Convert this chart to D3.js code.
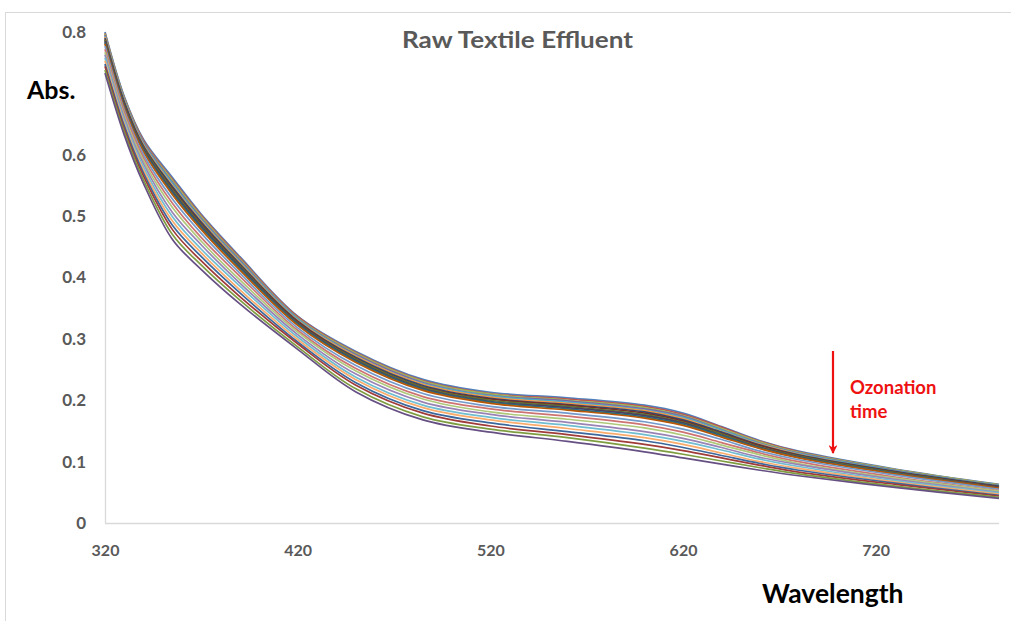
<!DOCTYPE html>
<html>
<head>
<meta charset="utf-8">
<script src="https://cdn.jsdelivr.net/npm/d3@7"></script>
<style>
  html, body { margin: 0; padding: 0; background: #fff; }
  svg { display: block; }
  text { font-family: Lato, "Open Sans", sans-serif; }
</style>
</head>
<body>
<svg id="chart" width="1011" height="621"></svg>
<script>
// Wavelengths (nm) at which each spectrum was sampled
const wavelengths = [320, 330, 340, 355, 370, 390, 420, 450, 485, 520, 560, 600, 620, 640, 660, 680, 730, 784];

// Absorbance spectra, one per ozonation sample (first = untreated)
const s1  = [0.800, 0.695, 0.625, 0.563, 0.503, 0.434, 0.337, 0.280, 0.234, 0.213, 0.204, 0.192, 0.179, 0.157, 0.134, 0.117, 0.088, 0.063];
const s2  = [0.798, 0.693, 0.623, 0.560, 0.501, 0.432, 0.336, 0.278, 0.232, 0.211, 0.202, 0.190, 0.177, 0.156, 0.133, 0.116, 0.087, 0.062];
const s3  = [0.797, 0.692, 0.621, 0.558, 0.499, 0.430, 0.334, 0.277, 0.231, 0.210, 0.200, 0.188, 0.175, 0.154, 0.132, 0.115, 0.087, 0.062];
const s4  = [0.795, 0.690, 0.620, 0.555, 0.496, 0.428, 0.333, 0.275, 0.229, 0.208, 0.199, 0.186, 0.174, 0.152, 0.130, 0.114, 0.086, 0.061];
const s5  = [0.793, 0.689, 0.618, 0.553, 0.494, 0.426, 0.332, 0.273, 0.227, 0.207, 0.197, 0.184, 0.172, 0.151, 0.129, 0.113, 0.085, 0.061];
const s6  = [0.792, 0.687, 0.616, 0.550, 0.492, 0.424, 0.330, 0.272, 0.226, 0.205, 0.195, 0.183, 0.170, 0.149, 0.128, 0.112, 0.084, 0.060];
const s7  = [0.790, 0.686, 0.614, 0.548, 0.490, 0.422, 0.329, 0.270, 0.224, 0.203, 0.193, 0.181, 0.168, 0.148, 0.127, 0.111, 0.084, 0.060];
const s8  = [0.788, 0.684, 0.612, 0.545, 0.487, 0.420, 0.328, 0.268, 0.222, 0.202, 0.192, 0.179, 0.166, 0.146, 0.126, 0.110, 0.083, 0.059];
const s9  = [0.787, 0.682, 0.611, 0.543, 0.485, 0.419, 0.326, 0.267, 0.221, 0.200, 0.190, 0.177, 0.164, 0.145, 0.124, 0.109, 0.082, 0.058];
const s10 = [0.785, 0.681, 0.609, 0.540, 0.483, 0.417, 0.325, 0.265, 0.219, 0.198, 0.188, 0.175, 0.163, 0.143, 0.123, 0.108, 0.081, 0.058];
const s11 = [0.783, 0.679, 0.607, 0.538, 0.481, 0.415, 0.324, 0.264, 0.218, 0.197, 0.186, 0.173, 0.161, 0.142, 0.122, 0.107, 0.081, 0.057];
const s12 = [0.781, 0.677, 0.605, 0.535, 0.478, 0.412, 0.322, 0.262, 0.216, 0.195, 0.184, 0.171, 0.159, 0.140, 0.121, 0.106, 0.080, 0.057];
const s13 = [0.777, 0.673, 0.600, 0.528, 0.472, 0.407, 0.318, 0.257, 0.211, 0.190, 0.179, 0.165, 0.153, 0.136, 0.117, 0.103, 0.078, 0.055];
const s14 = [0.772, 0.669, 0.595, 0.521, 0.465, 0.402, 0.314, 0.252, 0.206, 0.186, 0.174, 0.160, 0.148, 0.131, 0.114, 0.100, 0.075, 0.053];
const s15 = [0.767, 0.664, 0.590, 0.514, 0.459, 0.396, 0.311, 0.248, 0.202, 0.181, 0.169, 0.155, 0.143, 0.127, 0.111, 0.097, 0.073, 0.052];
const s16 = [0.763, 0.660, 0.585, 0.506, 0.453, 0.391, 0.307, 0.243, 0.197, 0.177, 0.164, 0.149, 0.138, 0.123, 0.107, 0.095, 0.071, 0.050];
const s17 = [0.758, 0.655, 0.580, 0.499, 0.446, 0.386, 0.303, 0.238, 0.192, 0.172, 0.159, 0.144, 0.133, 0.119, 0.104, 0.092, 0.069, 0.049];
const s18 = [0.753, 0.651, 0.575, 0.492, 0.440, 0.380, 0.299, 0.234, 0.188, 0.168, 0.154, 0.139, 0.128, 0.114, 0.100, 0.089, 0.067, 0.047];
const s19 = [0.748, 0.647, 0.570, 0.485, 0.434, 0.375, 0.295, 0.229, 0.183, 0.163, 0.149, 0.134, 0.123, 0.110, 0.097, 0.086, 0.065, 0.045];
const s20 = [0.744, 0.642, 0.565, 0.478, 0.427, 0.369, 0.292, 0.225, 0.179, 0.158, 0.144, 0.128, 0.118, 0.106, 0.094, 0.083, 0.063, 0.044];
const s21 = [0.738, 0.637, 0.559, 0.470, 0.420, 0.363, 0.287, 0.219, 0.173, 0.153, 0.139, 0.122, 0.112, 0.101, 0.090, 0.080, 0.060, 0.042];
const s22 = [0.733, 0.632, 0.553, 0.462, 0.413, 0.357, 0.283, 0.214, 0.168, 0.148, 0.133, 0.116, 0.106, 0.096, 0.086, 0.077, 0.058, 0.040];

const seriesValues = [s1, s2, s3, s4, s5, s6, s7, s8, s9, s10, s11, s12,
                      s13, s14, s15, s16, s17, s18, s19, s20, s21, s22];

// Line colours, in series order
const seriesColors = [
  "#4F81BD", "#C0504D", "#9BBB59", "#8064A2", "#4BACC6", "#F79646",
  "#2C4D75", "#772C2A", "#5F7530", "#4D3B62", "#276A7C", "#B65708",
  "#729ACA", "#CD7371", "#AFC97A", "#9983B5", "#6FBDD1", "#F9AB6B",
  "#3A679C", "#9F3B38", "#7E9D40", "#664F83"
];

const xTicks = [320, 420, 520, 620, 720];
const yTicks = [0, 0.1, 0.2, 0.3, 0.4, 0.5, 0.6, 0.8];

const svg = d3.select("#chart");

// Outer chart frame
svg.append("rect")
  .attr("x", 5.5).attr("y", 12.5)
  .attr("width", 1020).attr("height", 620)
  .attr("fill", "none").attr("stroke", "#d9d9d9").attr("stroke-width", 1);

const x = d3.scaleLinear().domain([320, 784]).range([105, 999]);
const y = d3.scaleLinear().domain([0, 0.8]).range([523, 32]);

// Axis lines
svg.append("line")
  .attr("x1", 105.5).attr("x2", 105.5).attr("y1", 32).attr("y2", 523.5)
  .attr("stroke", "#d9d9d9").attr("stroke-width", 1.3);
svg.append("line")
  .attr("x1", 105).attr("x2", 999).attr("y1", 523.5).attr("y2", 523.5)
  .attr("stroke", "#d9d9d9").attr("stroke-width", 1.3);

// Tick labels
const yAxis = d3.axisLeft(y).tickValues(yTicks).tickSize(0).tickPadding(0)
  .tickFormat(d => d === 0 ? "0" : d3.format(".1f")(d));
const gy = svg.append("g").attr("transform", "translate(86,0)").call(yAxis);
gy.select(".domain").remove();
gy.selectAll("text")
  .attr("fill", "#595959").attr("font-size", 17).attr("font-weight", 700)
  .style("font-family", "Lato, sans-serif");

const xAxis = d3.axisBottom(x).tickValues(xTicks).tickSize(0).tickPadding(0)
  .tickFormat(d3.format("d"));
const gx = svg.append("g").attr("transform", "translate(0,545)").call(xAxis);
gx.select(".domain").remove();
gx.selectAll("text")
  .attr("fill", "#595959").attr("font-size", 16).attr("font-weight", 700)
  .style("font-family", "Lato, sans-serif");

// Spectra
const line = d3.line()
  .x((d, i) => x(wavelengths[i]))
  .y(d => y(d))
  .curve(d3.curveCatmullRom.alpha(0.5));

svg.append("g")
  .selectAll("path")
  .data(seriesValues)
  .join("path")
  .attr("d", line)
  .attr("fill", "none")
  .attr("stroke", (d, i) => seriesColors[i])
  .attr("stroke-width", 1.7)
  .attr("stroke-linejoin", "round");

// Title and axis titles
svg.append("text")
  .attr("x", 402).attr("y", 48)
  .attr("textLength", 231).attr("lengthAdjust", "spacingAndGlyphs")
  .attr("font-size", 23).attr("font-weight", 700).attr("fill", "#595959")
  .text("Raw Textile Effluent");

svg.append("text")
  .attr("x", 27).attr("y", 99)
  .attr("font-size", 25).attr("font-weight", 700).attr("fill", "#000")
  .text("Abs.");

svg.append("text")
  .attr("x", 762).attr("y", 603)
  .attr("font-size", 26.5).attr("font-weight", 700).attr("fill", "#000")
  .text("Wavelength");

// Ozonation arrow
const defs = svg.append("defs");
defs.append("marker")
  .attr("id", "arrowHead")
  .attr("viewBox", "0 0 10 10")
  .attr("refX", 9).attr("refY", 5)
  .attr("markerWidth", 4).attr("markerHeight", 4)
  .attr("markerUnits", "strokeWidth")
  .attr("orient", "auto")
  .append("path")
  .attr("d", "M0,0 L10,5 L0,10 L3,5 Z")
  .attr("fill", "#ee1111");

svg.append("line")
  .attr("x1", 833).attr("y1", 351)
  .attr("x2", 833).attr("y2", 453)
  .attr("stroke", "#ee1111").attr("stroke-width", 2.2)
  .attr("marker-end", "url(#arrowHead)");

svg.append("text")
  .attr("x", 850).attr("y", 394)
  .attr("font-size", 18.5).attr("font-weight", 700).attr("fill", "#ee1111")
  .text("Ozonation");
svg.append("text")
  .attr("x", 850).attr("y", 418)
  .attr("font-size", 18.5).attr("font-weight", 700).attr("fill", "#ee1111")
  .text("time");
</script>
</body>
</html>
